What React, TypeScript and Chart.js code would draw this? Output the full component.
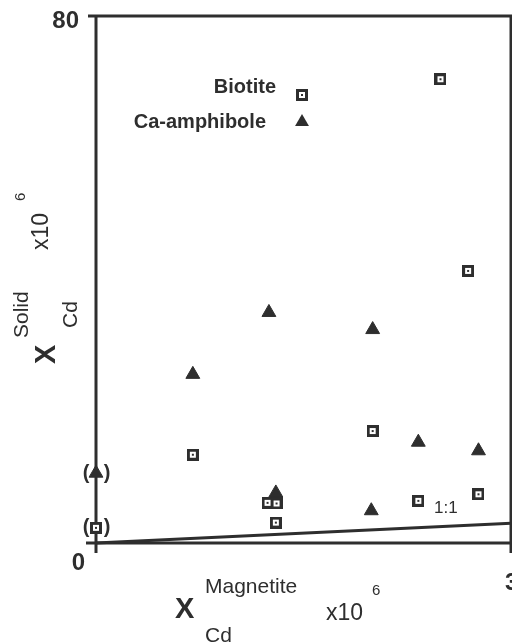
import React, { useEffect, useRef } from "react";
import { Chart, registerables } from "chart.js";

Chart.register(...registerables);

// Biotite (squares): x = X_Cd magnetite (x10^6), y = X_Cd solid (x10^6)
const biotiteX = [2.49, 2.69, 2.0, 0.7, 1.24, 1.305, 1.3, 2.33, 2.765, 0];
const biotiteY = [70.4, 41.3, 17.0, 13.4, 6.1, 6.0, 3.1, 6.4, 7.4, 2.3];
// Ca-amphibole (triangles)
const amphX = [1.25, 2.0, 0.7, 2.33, 2.765, 1.3, 1.99, 0];
const amphY = [35.0, 32.4, 25.6, 15.3, 14.0, 7.6, 4.9, 10.6];
// 1:1 reference line
const oneToOneX = [0, 3];
const oneToOneY = [0, 3];
// axis tick labels
const xTickLabels = ["0", "3"];
const yTickLabels = ["0", "80"];
const seriesNames = ["Biotite", "Ca-amphibole"];

const INK = "#2e2e2e";
const FONT = "'Liberation Sans', Arial, Helvetica, sans-serif";

function makeSquareMarker(): HTMLCanvasElement {
  const c = document.createElement("canvas");
  c.width = 12;
  c.height = 12;
  const g = c.getContext("2d")!;
  g.fillStyle = INK;
  g.fillRect(0, 0, 12, 12);
  g.fillStyle = "#ffffff";
  g.fillRect(3, 3, 6, 6);
  g.fillStyle = INK;
  g.fillRect(5, 5, 2, 2);
  return c;
}

export default function App() {
  const ref = useRef<HTMLCanvasElement | null>(null);

  useEffect(() => {
    if (!ref.current) return;
    const square = makeSquareMarker();

    const drawTriangle = (ctx: CanvasRenderingContext2D, x: number, y: number, r: number) => {
      ctx.beginPath();
      ctx.moveTo(x, y - r);
      ctx.lineTo(x + 0.866 * r, y + 0.5 * r);
      ctx.lineTo(x - 0.866 * r, y + 0.5 * r);
      ctx.closePath();
      ctx.fill();
    };

    const rotText = (ctx: CanvasRenderingContext2D, text: string, bx: number, by: number, font: string) => {
      ctx.save();
      ctx.translate(bx, by);
      ctx.rotate(-Math.PI / 2);
      ctx.font = font;
      ctx.textAlign = "left";
      ctx.textBaseline = "alphabetic";
      ctx.fillText(text, 0, 0);
      ctx.restore();
    };

    const framePlugin = {
      id: "frame",
      beforeDatasetsDraw(chart: any) {
        const { ctx, chartArea } = chart;
        const { left, right, top, bottom } = chartArea;
        ctx.save();
        ctx.strokeStyle = INK;
        ctx.lineWidth = 3;
        ctx.lineCap = "butt";
        ctx.beginPath();
        // top frame
        ctx.moveTo(left - 8, top);
        ctx.lineTo(right + 2, top);
        // left axis
        ctx.moveTo(left, top);
        ctx.lineTo(left, bottom + 10);
        // bottom axis
        ctx.moveTo(left - 10, bottom);
        ctx.lineTo(right + 2, bottom);
        // right frame
        ctx.moveTo(right, top);
        ctx.lineTo(right, bottom + 10);
        ctx.stroke();
        ctx.restore();
      },
      afterDatasetsDraw(chart: any) {
        const { ctx, chartArea, scales } = chart;
        const xs = scales.x;
        const ys = scales.y;
        ctx.save();
        ctx.fillStyle = INK;

        // tick labels
        ctx.font = `bold 24px ${FONT}`;
        ctx.textBaseline = "alphabetic";
        ctx.textAlign = "right";
        ctx.fillText(yTickLabels[1], chartArea.left - 17, ys.getPixelForValue(80) + 12);
        ctx.fillText(yTickLabels[0], chartArea.left - 11, ys.getPixelForValue(0) + 27);
        ctx.textAlign = "left";
        ctx.fillText(xTickLabels[1], xs.getPixelForValue(3) - 6, ys.getPixelForValue(0) + 47);

        // parentheses around the x = 0 points
        ctx.font = `bold 20px ${FONT}`;
        ctx.textAlign = "center";
        ctx.textBaseline = "middle";
        const px0 = xs.getPixelForValue(0);
        [biotiteY[9], amphY[7]].forEach((v) => {
          const py = ys.getPixelForValue(v);
          ctx.fillText("(", px0 - 10, py);
          ctx.fillText(")", px0 + 11, py);
        });

        // 1:1 label
        ctx.font = `17px ${FONT}`;
        ctx.textAlign = "left";
        ctx.textBaseline = "alphabetic";
        ctx.fillText("1:1", 434, 513);

        // legend
        ctx.font = `bold 20px ${FONT}`;
        ctx.textAlign = "right";
        ctx.fillText(seriesNames[0], 276, 93);
        ctx.fillText(seriesNames[1], 266, 128);
        ctx.drawImage(square, 296, 89);
        drawTriangle(ctx, 302, 122, 8);

        // x-axis title
        ctx.textAlign = "left";
        ctx.font = `bold 29px ${FONT}`;
        ctx.fillText("X", 175, 618);
        ctx.font = `21px ${FONT}`;
        ctx.fillText("Magnetite", 205, 593);
        ctx.fillText("Cd", 205, 642);
        ctx.font = `23px ${FONT}`;
        ctx.fillText("x10", 326, 620);
        ctx.font = `15px ${FONT}`;
        ctx.fillText("6", 372, 595);

        // y-axis title (rotated)
        rotText(ctx, "X", 55, 364, `bold 29px ${FONT}`);
        rotText(ctx, "Solid", 28, 338, `21px ${FONT}`);
        rotText(ctx, "Cd", 77, 328, `21px ${FONT}`);
        rotText(ctx, "x10", 48, 250, `23px ${FONT}`);
        rotText(ctx, "6", 25, 201, `15px ${FONT}`);

        ctx.restore();
      },
    };

    const chart = new Chart(ref.current, {
      type: "scatter",
      data: {
        datasets: [
          {
            type: "line",
            label: "1:1",
            data: oneToOneX.map((x, i) => ({ x, y: oneToOneY[i] })),
            borderColor: INK,
            borderWidth: 3,
            pointRadius: 0,
            fill: false,
            clip: false,
            order: 3,
          } as any,
          {
            label: seriesNames[0],
            data: biotiteX.map((x, i) => ({ x, y: biotiteY[i] })),
            pointStyle: square,
            pointRadius: 6,
            clip: false,
            order: 2,
          },
          {
            label: seriesNames[1],
            data: amphX.map((x, i) => ({ x, y: amphY[i] })),
            pointStyle: "triangle",
            pointRadius: 8,
            backgroundColor: INK,
            borderColor: INK,
            borderWidth: 1,
            clip: false,
            order: 1,
          },
        ],
      },
      options: {
        animation: false,
        responsive: true,
        maintainAspectRatio: false,
        layout: { autoPadding: false, padding: { left: 96, top: 16, right: 1, bottom: 100 } },
        plugins: { legend: { display: false }, tooltip: { enabled: false } },
        scales: {
          x: { type: "linear", min: 0, max: 3, display: false },
          y: { type: "linear", min: 0, max: 80, display: false },
        },
      },
      plugins: [framePlugin],
    });

    return () => chart.destroy();
  }, []);

  return (
    <div style={{ position: "absolute", left: 0, top: 0, width: 512, height: 643, background: "#fff" }}>
      <canvas ref={ref} />
    </div>
  );
}
